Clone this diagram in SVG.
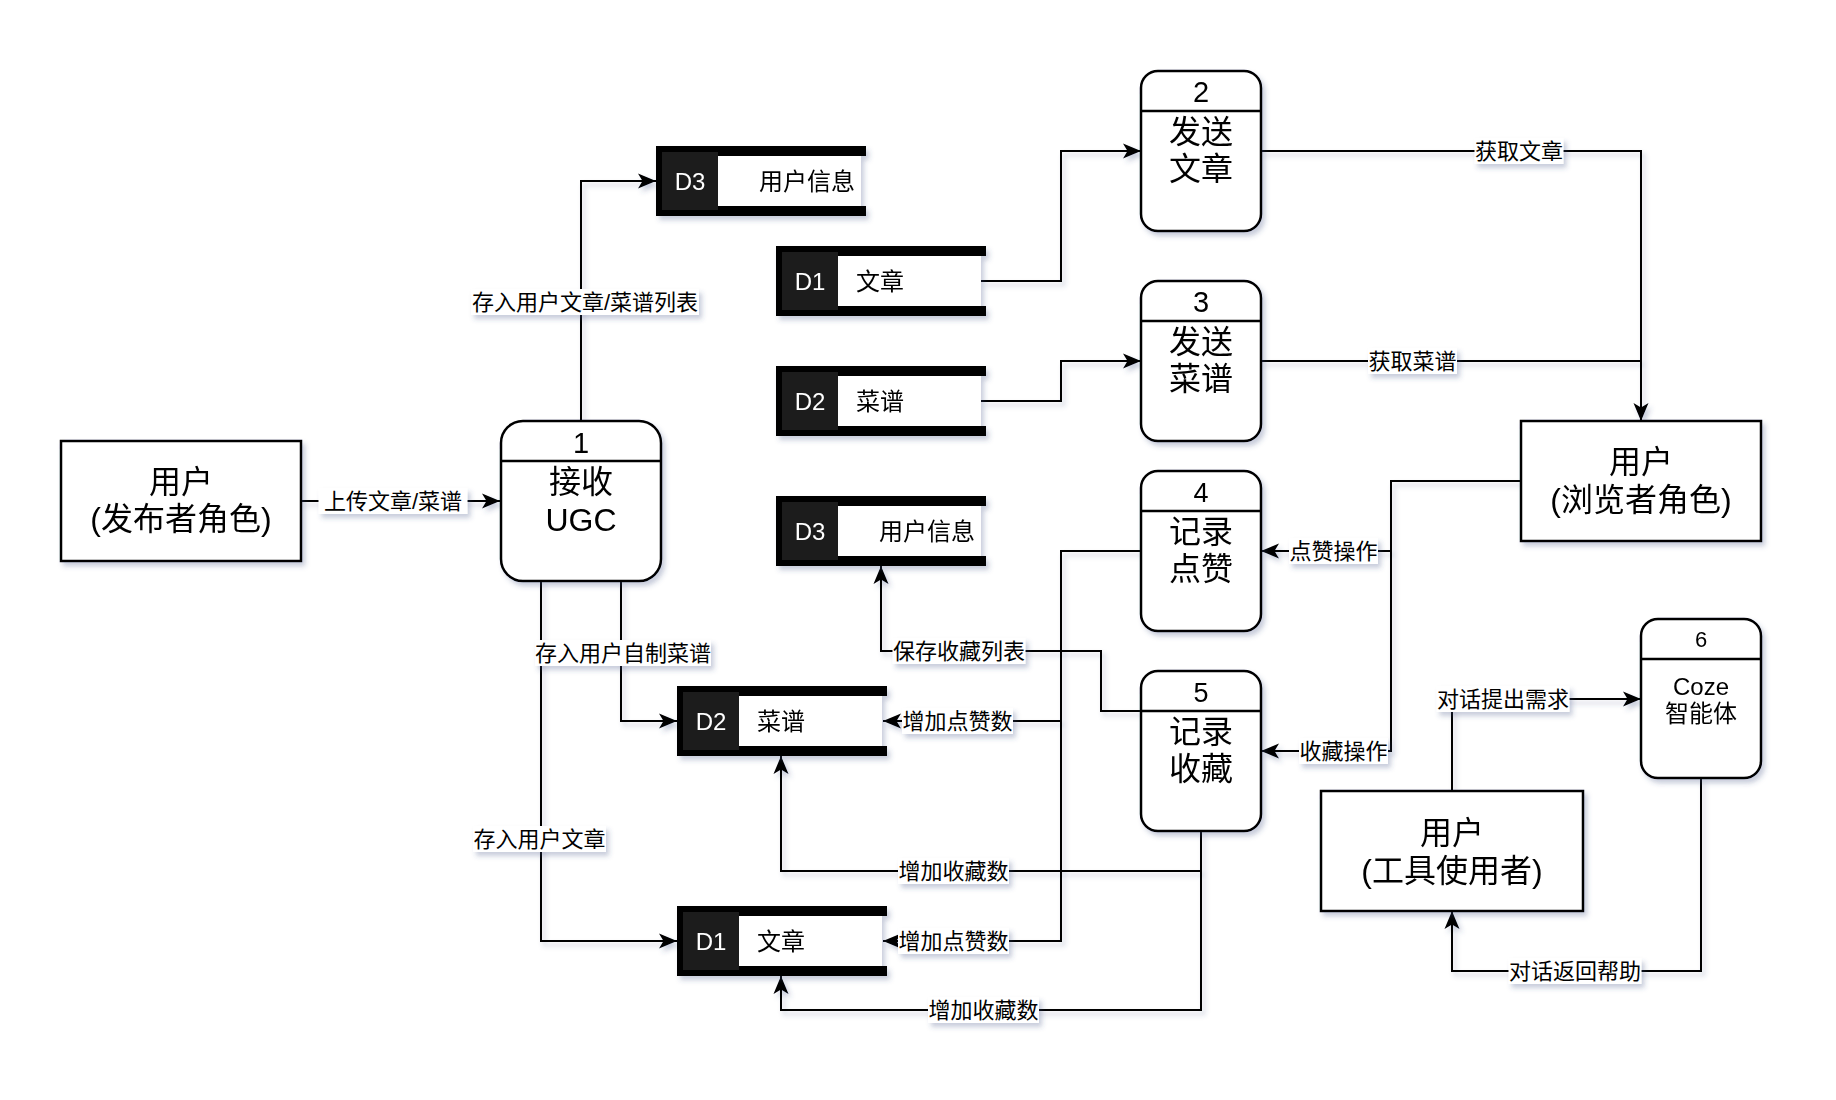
<svg xmlns="http://www.w3.org/2000/svg" width="1836" height="1100" viewBox="0 0 1836 1100">
<defs>
<filter id="sh" filterUnits="userSpaceOnUse" x="-50" y="-50" width="1936" height="1200">
<feDropShadow dx="3" dy="4" stdDeviation="2.5" flood-color="#3c4a80" flood-opacity="0.28"/>
</filter>
<marker id="arr" markerUnits="userSpaceOnUse" markerWidth="19" markerHeight="17" refX="18" refY="8.5" orient="auto">
<path d="M0,1 L18,8.5 L0,16 L4.5,8.5 Z" fill="#000"/>
</marker>
<style>
text{font-family:"Liberation Sans","Noto Sans CJK SC",sans-serif;fill:#000;text-anchor:middle;dominant-baseline:central}
.ln{fill:none;stroke:#000;stroke-width:2}
.ar{marker-end:url(#arr)}
.nd{fill:#fff;stroke:#000;stroke-width:2.5}
.hd{stroke:#000;stroke-width:2.5}
.t32{font-size:32px}
.t29{font-size:29px}
.t27{font-size:27px}
.t24{font-size:24px}
.t22{font-size:22px}
.lbl rect{fill:#fff}
.lbl text{font-size:22px}
.sb{fill:#000}
.sw{fill:#fff}
.sd{fill:#1f1f1f}
.dl{font-size:24px;fill:#fff}
.dn{font-size:24px}
</style>
</defs>
<rect width="1836" height="1100" fill="#fff"/>

<g id="connectors">
<g filter="url(#sh)">
<path class="ln ar" d="M301,501 H500"/>
<path class="ln ar" d="M581,421 V181 H656"/>
<path class="ln ar" d="M621,581 V721 H677"/>
<path class="ln ar" d="M541,581 V941 H677"/>
<path class="ln ar" d="M981,281 H1061 V151 H1141"/>
<path class="ln ar" d="M981,401 H1061 V361 H1141"/>
<path class="ln ar" d="M1261,151 H1641 V421"/>
<path class="ln" d="M1261,361 H1641"/>
<path class="ln ar" d="M1521,481 H1391 V551 H1261"/>
<path class="ln ar" d="M1391,551 V751 H1261"/>
<path class="ln ar" d="M1141,551 H1061 V721 H883"/>
<path class="ln ar" d="M1061,721 V941 H883"/>
<path class="ln ar" d="M1141,711 H1101 V651 H881 V566"/>
<path class="ln ar" d="M1201,831 V871 H781 V756"/>
<path class="ln ar" d="M1201,871 V1010 H781 V976"/>
<path class="ln ar" d="M1452,791 V699 H1641"/>
<path class="ln ar" d="M1701,778 V971 H1452 V911"/>
</g>
<g class="lbl">
<rect x="318.5" y="488" width="149" height="26" filter="url(#sh)"/><text x="393" y="501">上传文章/菜谱</text>
<rect x="471" y="289" width="228" height="26" filter="url(#sh)"/><text x="585" y="302">存入用户文章/菜谱列表</text>
<rect x="535" y="640" width="176" height="26" filter="url(#sh)"/><text x="623" y="653">存入用户自制菜谱</text>
<rect x="473" y="826" width="133" height="26" filter="url(#sh)"/><text x="539.5" y="839">存入用户文章</text>
<rect x="1474.5" y="138" width="89" height="26" filter="url(#sh)"/><text x="1519" y="151">获取文章</text>
<rect x="1368" y="348" width="89" height="26" filter="url(#sh)"/><text x="1412.5" y="361">获取菜谱</text>
<rect x="1289" y="538" width="89" height="26" filter="url(#sh)"/><text x="1333.5" y="551">点赞操作</text>
<rect x="1299" y="738" width="89" height="26" filter="url(#sh)"/><text x="1343.5" y="751">收藏操作</text>
<rect x="902" y="708" width="111" height="26" filter="url(#sh)"/><text x="957.5" y="721">增加点赞数</text>
<rect x="898" y="928" width="111" height="26" filter="url(#sh)"/><text x="953.5" y="941">增加点赞数</text>
<rect x="892.5" y="638" width="133" height="26" filter="url(#sh)"/><text x="959" y="651">保存收藏列表</text>
<rect x="898" y="858" width="111" height="26" filter="url(#sh)"/><text x="953.5" y="871">增加收藏数</text>
<rect x="928" y="997" width="111" height="26" filter="url(#sh)"/><text x="983.5" y="1010">增加收藏数</text>
<rect x="1436.5" y="686" width="133" height="26" filter="url(#sh)"/><text x="1503" y="699">对话提出需求</text>
<rect x="1508.5" y="958" width="133" height="26" filter="url(#sh)"/><text x="1575" y="971">对话返回帮助</text>
</g>
</g>

<g id="user-publisher" filter="url(#sh)">
<rect class="nd" x="61" y="441" width="240" height="120"/>
<text class="t32" x="181" y="482">用户</text>
<text class="t32" x="181" y="519">(发布者角色)</text>
</g>

<g id="user-browser" filter="url(#sh)">
<rect class="nd" x="1521" y="421" width="240" height="120"/>
<text class="t32" x="1641" y="462">用户</text>
<text class="t32" x="1641" y="500">(浏览者角色)</text>
</g>

<g id="user-tool" filter="url(#sh)">
<rect class="nd" x="1321" y="791" width="262" height="120"/>
<text class="t32" x="1452" y="833">用户</text>
<text class="t32" x="1452" y="871">(工具使用者)</text>
</g>

<g id="p1" filter="url(#sh)">
<rect class="nd" x="501" y="421" width="160" height="160" rx="22"/>
<line class="hd" x1="501" y1="461" x2="661" y2="461"/>
<text class="t29" x="581" y="443">1</text>
<text class="t32" x="581" y="482">接收</text>
<text class="t32" x="581" y="520">UGC</text>
</g>

<g id="p2" filter="url(#sh)">
<rect class="nd" x="1141" y="71" width="120" height="160" rx="17"/>
<line class="hd" x1="1141" y1="111" x2="1261" y2="111"/>
<text class="t29" x="1201" y="92">2</text>
<text class="t32" x="1201" y="132">发送</text>
<text class="t32" x="1201" y="169">文章</text>
</g>

<g id="p3" filter="url(#sh)">
<rect class="nd" x="1141" y="281" width="120" height="160" rx="17"/>
<line class="hd" x1="1141" y1="321" x2="1261" y2="321"/>
<text class="t29" x="1201" y="302">3</text>
<text class="t32" x="1201" y="342">发送</text>
<text class="t32" x="1201" y="379">菜谱</text>
</g>

<g id="p4" filter="url(#sh)">
<rect class="nd" x="1141" y="471" width="120" height="160" rx="17"/>
<line class="hd" x1="1141" y1="511" x2="1261" y2="511"/>
<text class="t27" x="1201" y="493">4</text>
<text class="t32" x="1201" y="532">记录</text>
<text class="t32" x="1201" y="569">点赞</text>
</g>

<g id="p5" filter="url(#sh)">
<rect class="nd" x="1141" y="671" width="120" height="160" rx="17"/>
<line class="hd" x1="1141" y1="711" x2="1261" y2="711"/>
<text class="t27" x="1201" y="693">5</text>
<text class="t32" x="1201" y="732">记录</text>
<text class="t32" x="1201" y="769">收藏</text>
</g>

<g id="p6" filter="url(#sh)">
<rect class="nd" x="1641" y="619" width="120" height="159" rx="17"/>
<line class="hd" x1="1641" y1="659" x2="1761" y2="659"/>
<text class="t22" x="1701" y="639">6</text>
<text class="t24" x="1701" y="686">Coze</text>
<text class="t24" x="1701" y="713">智能体</text>
</g>

<g id="d3-top" transform="translate(656,146)" filter="url(#sh)">
<rect class="sw" x="62" y="10" width="143" height="50"/>
<rect class="sb" x="0" y="0" width="210" height="10"/>
<rect class="sb" x="0" y="60" width="210" height="10"/>
<rect class="sb" x="0" y="0" width="62" height="70"/>
<rect class="sd" x="6" y="6" width="56" height="58"/>
<text class="dl" x="34" y="35">D3</text>
<text class="dn" x="199" y="35" style="text-anchor:end">用户信息</text>
</g>

<g id="d1-top" transform="translate(776,246)" filter="url(#sh)">
<rect class="sw" x="62" y="10" width="143" height="50"/>
<rect class="sb" x="0" y="0" width="210" height="10"/>
<rect class="sb" x="0" y="60" width="210" height="10"/>
<rect class="sb" x="0" y="0" width="62" height="70"/>
<rect class="sd" x="6" y="6" width="56" height="58"/>
<text class="dl" x="34" y="35">D1</text>
<text class="dn" x="80" y="35" style="text-anchor:start">文章</text>
</g>

<g id="d2-top" transform="translate(776,366)" filter="url(#sh)">
<rect class="sw" x="62" y="10" width="143" height="50"/>
<rect class="sb" x="0" y="0" width="210" height="10"/>
<rect class="sb" x="0" y="60" width="210" height="10"/>
<rect class="sb" x="0" y="0" width="62" height="70"/>
<rect class="sd" x="6" y="6" width="56" height="58"/>
<text class="dl" x="34" y="35">D2</text>
<text class="dn" x="80" y="35" style="text-anchor:start">菜谱</text>
</g>

<g id="d3-mid" transform="translate(776,496)" filter="url(#sh)">
<rect class="sw" x="62" y="10" width="143" height="50"/>
<rect class="sb" x="0" y="0" width="210" height="10"/>
<rect class="sb" x="0" y="60" width="210" height="10"/>
<rect class="sb" x="0" y="0" width="62" height="70"/>
<rect class="sd" x="6" y="6" width="56" height="58"/>
<text class="dl" x="34" y="35">D3</text>
<text class="dn" x="199" y="35" style="text-anchor:end">用户信息</text>
</g>

<g id="d2-bottom" transform="translate(677,686)" filter="url(#sh)">
<rect class="sw" x="62" y="10" width="143" height="50"/>
<rect class="sb" x="0" y="0" width="210" height="10"/>
<rect class="sb" x="0" y="60" width="210" height="10"/>
<rect class="sb" x="0" y="0" width="62" height="70"/>
<rect class="sd" x="6" y="6" width="56" height="58"/>
<text class="dl" x="34" y="35">D2</text>
<text class="dn" x="80" y="35" style="text-anchor:start">菜谱</text>
</g>

<g id="d1-bottom" transform="translate(677,906)" filter="url(#sh)">
<rect class="sw" x="62" y="10" width="143" height="50"/>
<rect class="sb" x="0" y="0" width="210" height="10"/>
<rect class="sb" x="0" y="60" width="210" height="10"/>
<rect class="sb" x="0" y="0" width="62" height="70"/>
<rect class="sd" x="6" y="6" width="56" height="58"/>
<text class="dl" x="34" y="35">D1</text>
<text class="dn" x="80" y="35" style="text-anchor:start">文章</text>
</g>
</svg>
